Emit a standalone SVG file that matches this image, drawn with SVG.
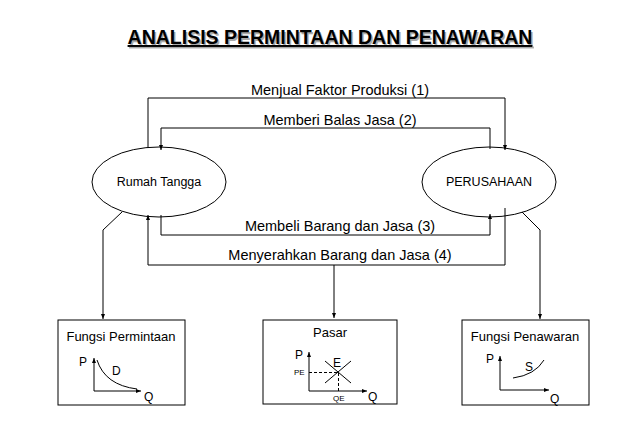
<svg xmlns="http://www.w3.org/2000/svg" width="638" height="442" viewBox="0 0 638 442">
<defs>
<marker id="a" viewBox="0 0 10 10" refX="10" refY="5" markerWidth="5" markerHeight="5" orient="auto"><path d="M0,1 L10,5 L0,9 z" fill="#000"/></marker>
<style>
text{font-family:"Liberation Sans",Arial,sans-serif;fill:#000}
.l{font-size:14.5px;text-anchor:middle}
.n{font-size:12.5px;text-anchor:middle}
.s{font-size:13px}
.c{font-size:12px}
.t{font-size:8px}
.ln{fill:none;stroke:#000;stroke-width:1}
</style>
</defs>
<rect width="638" height="442" fill="#fff"/>
<text x="331.5" y="45.5" font-size="19.5" font-weight="bold" text-anchor="middle" style="fill:#aaa" text-decoration="underline">ANALISIS PERMINTAAN DAN PENAWARAN</text>
<text x="330" y="44" font-size="19.5" font-weight="bold" text-anchor="middle" text-decoration="underline">ANALISIS PERMINTAAN DAN PENAWARAN</text>
<g id="connectors" class="ln">
<path class="ln" d="M148,148 V98 H505 V150" marker-end="url(#a)"/>
<path class="ln" d="M490,149 V128 H161 V150" marker-end="url(#a)"/>
<path class="ln" d="M161,215 V235 H490 V214" marker-end="url(#a)"/>
<path class="ln" d="M505,208 V265 H148 V215" marker-end="url(#a)"/>
<path class="ln" d="M334,265 V318" marker-end="url(#a)"/>
<path class="ln" d="M122,212 L103,230 V319" marker-end="url(#a)"/>
<path class="ln" d="M522,212 L540,230 V319" marker-end="url(#a)"/>
</g>
<text class="l" x="340" y="95">Menjual Faktor Produksi (1)</text>
<text class="l" x="340" y="125">Memberi Balas Jasa (2)</text>
<text class="l" x="340" y="231">Membeli Barang dan Jasa (3)</text>
<text class="l" x="340" y="260">Menyerahkan Barang dan Jasa (4)</text>
<g id="rumah"><ellipse class="ln" cx="159" cy="182" rx="67" ry="35"/><text class="n" x="159" y="186">Rumah Tangga</text></g>
<g id="perusahaan"><ellipse class="ln" cx="489" cy="182" rx="67" ry="35"/><text class="n" x="489" y="186">PERUSAHAAN</text></g>
<g id="permintaan">
<rect class="ln" x="58" y="320" width="127" height="85"/>
<text class="s" x="121" y="341" text-anchor="middle">Fungsi Permintaan</text>
<path class="ln" d="M94,391 V358" marker-end="url(#a)"/>
<path class="ln" d="M94,391 H141" marker-end="url(#a)"/>
<path class="ln" d="M97,360 Q105,385 137,389"/>
<text class="c" x="79" y="366">P</text><text class="c" x="112" y="375">D</text><text class="c" x="144" y="401">Q</text>
</g>
<g id="pasar">
<rect class="ln" x="263" y="320" width="134" height="84"/>
<text class="s" x="330" y="337" text-anchor="middle">Pasar</text>
<path class="ln" d="M309,391 V352" marker-end="url(#a)"/>
<path class="ln" d="M309,391 H367" marker-end="url(#a)"/>
<path class="ln" d="M325,361 L351,383 M351,361 L325,383"/>
<path class="ln" d="M309,372.5 H338.5 V391" stroke-dasharray="3,2"/>
<text class="c" x="295" y="359">P</text><text class="c" x="333" y="367">E</text><text class="c" x="368" y="401">Q</text>
<text class="t" x="294" y="375">PE</text><text class="t" x="333" y="401">QE</text>
</g>
<g id="penawaran">
<rect class="ln" x="462" y="320" width="127" height="85"/>
<text class="s" x="525" y="341" text-anchor="middle">Fungsi Penawaran</text>
<path class="ln" d="M500,390 V356" marker-end="url(#a)"/>
<path class="ln" d="M500,390 H549" marker-end="url(#a)"/>
<path class="ln" d="M513,378 Q535,375 544,360"/>
<text class="c" x="486" y="363">P</text><text class="c" x="525" y="371">S</text><text class="c" x="550" y="403">Q</text>
</g>
</svg>
